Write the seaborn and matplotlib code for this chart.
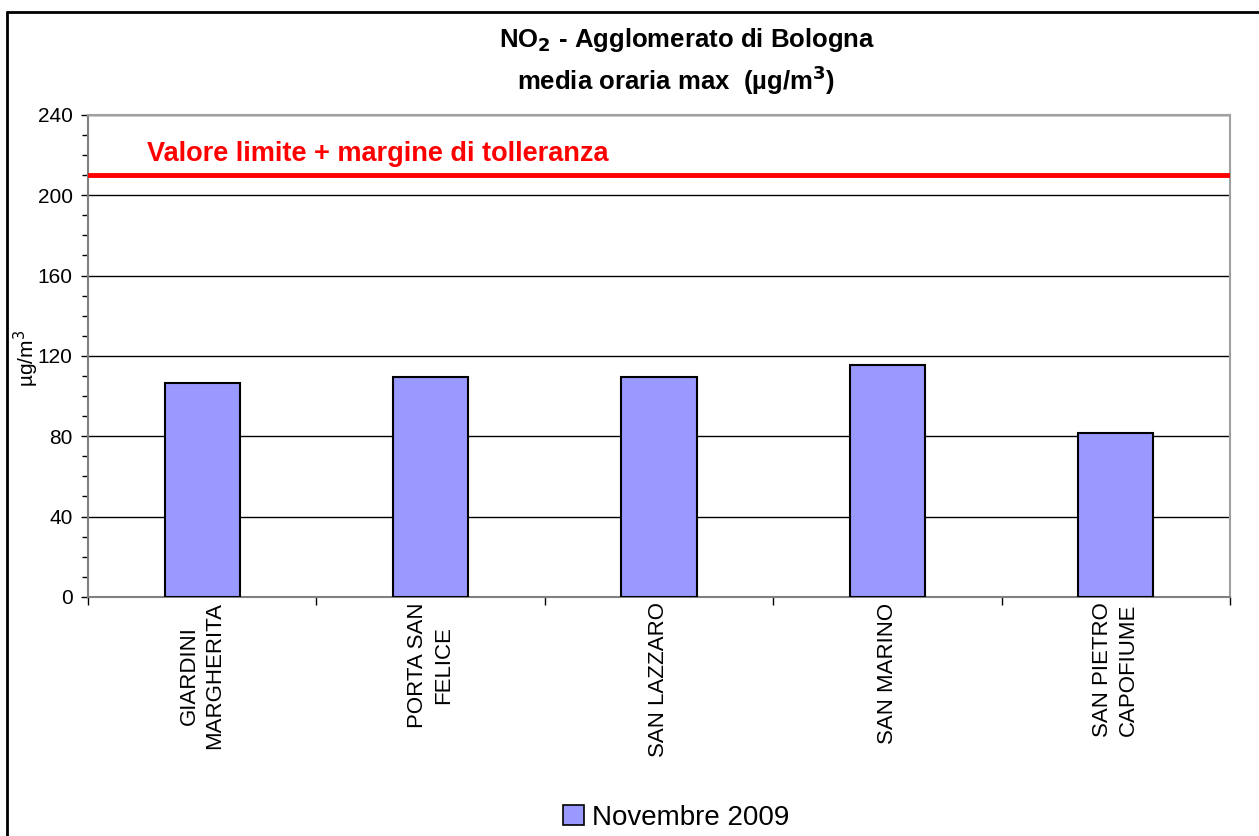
import matplotlib
matplotlib.use("Agg")
import matplotlib.pyplot as plt
import seaborn as sns
import pandas as pd
from matplotlib.ticker import MultipleLocator, FixedLocator
from matplotlib.patches import Rectangle
from matplotlib.lines import Line2D

stations = ["GIARDINI\nMARGHERITA", "PORTA SAN\nFELICE", "SAN LAZZARO", "SAN MARINO", "SAN PIETRO\nCAPOFIUME"]
values = [106.5, 109.5, 109.5, 115.5, 81.5]
series = "Novembre 2009"
limit = 210

sns.set_theme(style="white")
plt.rcParams['font.family'] = ['Liberation Sans', 'DejaVu Sans']
plt.rcParams['text.color'] = 'black'
plt.rcParams['axes.labelcolor'] = 'black'
plt.rcParams['xtick.color'] = 'black'
plt.rcParams['ytick.color'] = 'black'

df = pd.DataFrame({"station": stations, "value": values, "serie": series})

fig = plt.figure(figsize=(12.59, 8.36), dpi=100)
ax = fig.add_axes([0.0699, 0.286, 0.907, 0.5766])

sns.barplot(data=df, x="station", y="value", hue="serie", palette=["#9999FF"], saturation=1,
            width=0.33, edgecolor="black", linewidth=1.5, ax=ax, legend=False, zorder=3)

ax.set_ylim(0, 240)
ax.set_xlim(-0.5, len(stations) - 0.5)
ax.yaxis.set_major_locator(MultipleLocator(40))
ax.yaxis.set_minor_locator(MultipleLocator(10))
ax.grid(axis="y", which="major", color="black", linewidth=1, zorder=0)
ax.set_axisbelow(True)

ax.axhline(limit, color="#FF0000", linewidth=3.5, zorder=4)
ax.text(-0.24, limit + 4, "Valore limite + margine di tolleranza", color="#FF0000",
        fontsize=19.5, fontweight="bold", va="bottom", ha="left")

ax.set_xticks(range(len(stations)))
ax.set_xticklabels(stations, rotation=90, fontsize=16, va="top", ha="center",
                   linespacing=1.3)
ax.tick_params(axis="x", which="major", length=0, pad=4)
ax.xaxis.set_minor_locator(FixedLocator([i + 0.5 for i in range(-1, len(stations))]))
ax.tick_params(axis="x", which="minor", length=6, color="black", bottom=True, width=1)
ax.tick_params(axis="y", which="major", labelsize=15, length=5, left=True, color="black",
               width=1, pad=6)
ax.tick_params(axis="y", which="minor", length=4, left=True, color="black", width=1)

for side in ["top", "right"]:
    ax.spines[side].set_color("#A0A0A0")
    ax.spines[side].set_linewidth(1.5)
for side in ["left", "bottom"]:
    ax.spines[side].set_color("#808080")
    ax.spines[side].set_linewidth(1.5)
    ax.spines[side].set_visible(True)

ax.set_xlabel("")
ax.set_ylabel("µg/m$^3$", fontsize=15)
ax.yaxis.set_label_coords(-0.041, 0.494)

fig.text(0.546, 0.952, "NO$_\\mathbf{2}$ - Agglomerato di Bologna", ha="center", va="center",
         fontsize=18.5, fontweight="bold")
fig.text(0.537, 0.904, "media oraria max  (µg/m$^\\mathbf{3}$)", ha="center", va="center",
         fontsize=18.5, fontweight="bold")

handle = Rectangle((0, 0), 1, 1, facecolor="#9999FF", edgecolor="black", linewidth=1.2)
fig.legend([handle], [series], loc="center", bbox_to_anchor=(0.537, 0.022), frameon=False,
           fontsize=20, handlelength=0.75, handleheight=0.75, handletextpad=0.3)

fig.add_artist(Line2D([0.0056, 0.0056], [0.0, 0.986], transform=fig.transFigure,
                      color="black", linewidth=2))
fig.add_artist(Line2D([0.0056, 1.0], [0.986, 0.986], transform=fig.transFigure,
                      color="black", linewidth=2))

fig.savefig("out.png", dpi=100, facecolor="white")
